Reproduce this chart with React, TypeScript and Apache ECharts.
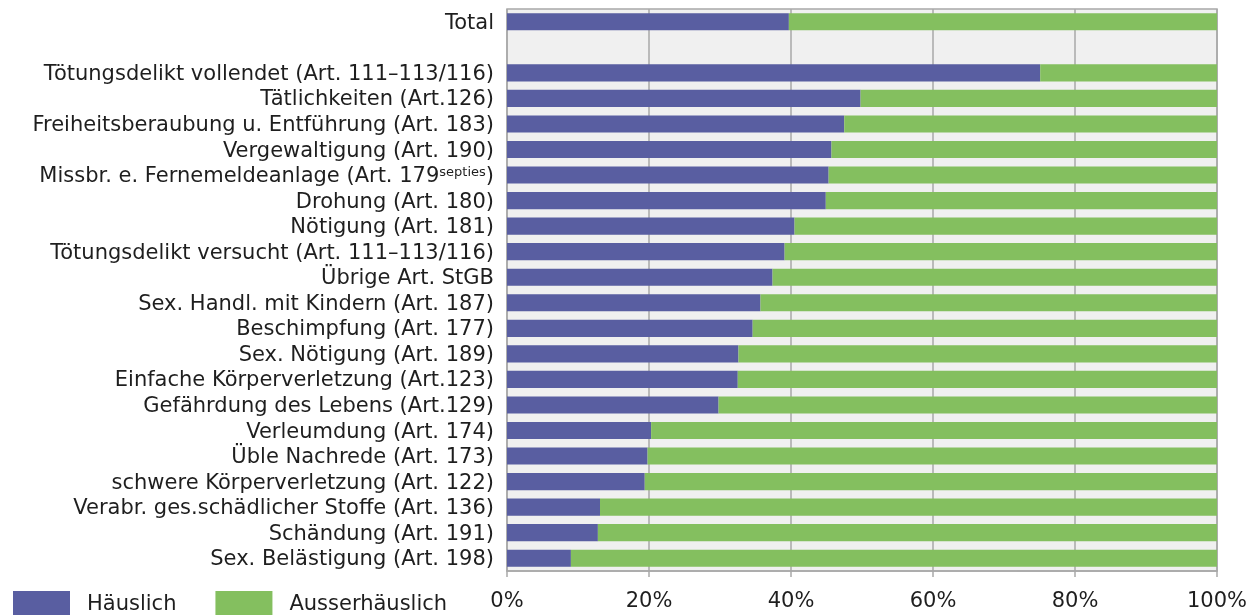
import React, { useEffect, useRef } from "react";
import * as echarts from "echarts";

const categories = [
  "Total",
  "",
  "Tötungsdelikt vollendet (Art. 111–113/116)",
  "Tätlichkeiten (Art.126)",
  "Freiheitsberaubung u. Entführung (Art. 183)",
  "Vergewaltigung (Art. 190)",
  "Missbr. e. Fernemeldeanlage (Art. 179septies)",
  "Drohung (Art. 180)",
  "Nötigung (Art. 181)",
  "Tötungsdelikt versucht (Art. 111–113/116)",
  "Übrige Art. StGB",
  "Sex. Handl. mit Kindern (Art. 187)",
  "Beschimpfung (Art. 177)",
  "Sex. Nötigung (Art. 189)",
  "Einfache Körperverletzung (Art.123)",
  "Gefährdung des Lebens (Art.129)",
  "Verleumdung (Art. 174)",
  "Üble Nachrede (Art. 173)",
  "schwere Körperverletzung (Art. 122)",
  "Verabr. ges.schädlicher Stoffe (Art. 136)",
  "Schändung (Art. 191)",
  "Sex. Belästigung (Art. 198)",
];

const haeuslich = [
  39.7, null, 75.1, 49.8, 47.5, 45.7, 45.3, 44.9, 40.5, 39.1, 37.4, 35.7, 34.6,
  32.6, 32.5, 29.8, 20.3, 19.8, 19.4, 13.1, 12.8, 9.0,
];

const ausserhaeuslich = [
  60.3, null, 24.9, 50.2, 52.5, 54.3, 54.7, 55.1, 59.5, 60.9, 62.6, 64.3, 65.4,
  67.4, 67.5, 70.2, 79.7, 80.2, 80.6, 86.9, 87.2, 91.0,
];

const xTicks = [0, 20, 40, 60, 80, 100];

const FONT = "'DejaVu Sans', 'Open Sans', sans-serif";

export default function App() {
  const ref = useRef<HTMLDivElement>(null);

  useEffect(() => {
    if (!ref.current) return;
    const chart = echarts.init(ref.current, undefined, { renderer: "svg" });
    chart.setOption({
      animation: false,
      textStyle: { fontFamily: FONT },
      grid: {
        left: 507,
        right: 37,
        top: 9,
        bottom: 45,
        show: true,
        backgroundColor: "#f0f0f0",
        borderColor: "#a8a8a8",
        borderWidth: 1.5,
        containLabel: false,
      },
      legend: {
        left: 13,
        top: 591,
        padding: 0,
        itemWidth: 57,
        itemHeight: 24,
        itemGap: 39,
        icon: "rect",
        textStyle: {
          fontFamily: FONT,
          fontSize: 21,
          color: "#1e1e1e",
          padding: [0, 0, 0, 12],
        },
        data: ["Häuslich", "Ausserhäuslich"],
      },
      xAxis: {
        type: "value",
        min: 0,
        max: 100,
        interval: 20,
        axisLine: { show: true, lineStyle: { color: "#a8a8a8", width: 1.5 } },
        axisTick: { show: true, length: 6, lineStyle: { color: "#a8a8a8", width: 1.5 } },
        splitLine: { show: true, lineStyle: { color: "#a8a8a8", width: 1.5 } },
        axisLabel: {
          fontFamily: FONT,
          fontSize: 21,
          color: "#1e1e1e",
          margin: 18,
          formatter: (v: number) => (xTicks.includes(v) ? v + "%" : ""),
        },
      },
      yAxis: {
        type: "category",
        inverse: true,
        data: categories,
        axisLine: { show: false },
        axisTick: { show: false },
        axisLabel: {
          fontFamily: FONT,
          fontSize: 21,
          color: "#1e1e1e",
          margin: 13,
          interval: 0,
          formatter: (v: string) =>
            v.endsWith("179septies)")
              ? v.replace("179septies)", "179{sup|septies}{base|)}")
              : v,
          rich: {
            sup: {
              fontFamily: FONT,
              fontSize: 13,
              color: "#1e1e1e",
              verticalAlign: "top",
            },
            base: {
              fontFamily: FONT,
              fontSize: 21,
              color: "#1e1e1e",
            },
          },
        },
      },
      series: [
        {
          name: "Häuslich",
          type: "bar",
          stack: "total",
          data: haeuslich,
          barCategoryGap: "33%",
          itemStyle: { color: "#595ea1" },
        },
        {
          name: "Ausserhäuslich",
          type: "bar",
          stack: "total",
          data: ausserhaeuslich,
          barCategoryGap: "33%",
          itemStyle: { color: "#84bf5f" },
        },
      ],
    });
    return () => chart.dispose();
  }, []);

  return (
    <div
      ref={ref}
      style={{ position: "fixed", left: 0, top: 0, width: 1254, height: 616 }}
    />
  );
}
